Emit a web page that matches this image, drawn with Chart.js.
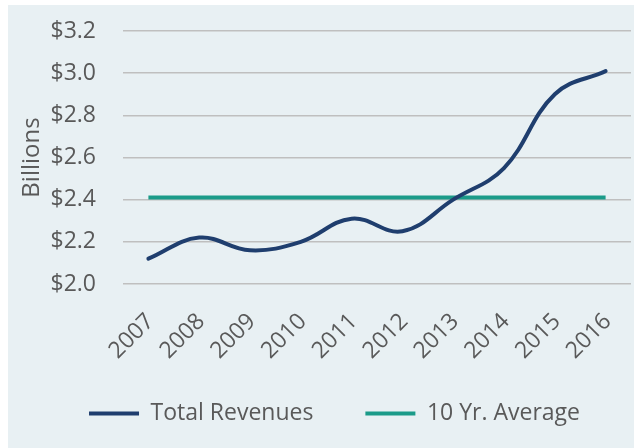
<!DOCTYPE html>
<html>
<head>
<meta charset="utf-8">
<script src="https://cdn.jsdelivr.net/npm/chart.js@4/dist/chart.umd.min.js"></script>
<style>
  html, body { margin: 0; padding: 0; background: #fff; }
  #wrap { position: absolute; left: 8px; top: 5px; width: 626px; height: 443px; background: #e8f0f3; }
</style>
</head>
<body>
<div id="wrap"><canvas id="chart"></canvas></div>
<script>
  // Data
  const years = ['2007', '2008', '2009', '2010', '2011', '2012', '2013', '2014', '2015', '2016'];
  const totalRevenues = [2.12, 2.22, 2.16, 2.20, 2.31, 2.25, 2.40, 2.55, 2.90, 3.01];
  const tenYrAverage = [2.41, 2.41, 2.41, 2.41, 2.41, 2.41, 2.41, 2.41, 2.41, 2.41];

  const textColor = '#595959';
  const fontFamily = '"Open Sans", sans-serif';

  // nudge the legend a bit right and up, like the original
  const legendShift = {
    id: 'legendShift',
    afterLayout(chart) {
      chart.legend.left += 10;
      chart.legend.right += 10;
      chart.legend.top -= 14;
      chart.legend.bottom -= 14;
    }
  };

  const ctx = document.getElementById('chart').getContext('2d');
  new Chart(ctx, {
    type: 'line',
    data: {
      labels: years,
      datasets: [
        {
          label: 'Total Revenues',
          data: totalRevenues,
          borderColor: '#1f3e6e',
          backgroundColor: '#1f3e6e',
          borderWidth: 4,
          tension: 0.4,
          pointRadius: 0,
          borderCapStyle: 'round'
        },
        {
          label: '10 Yr. Average',
          data: tenYrAverage,
          borderColor: '#1b9b89',
          backgroundColor: '#1b9b89',
          borderWidth: 4,
          pointRadius: 0
        }
      ]
    },
    options: {
      responsive: true,
      maintainAspectRatio: false,
      animation: false,
      layout: { padding: { top: 26, right: 3, left: 10, bottom: 4 } },
      plugins: {
        tooltip: { enabled: false },
        legend: {
          position: 'bottom',
          align: 'center',
          maxHeight: 80,
          labels: {
            color: textColor,
            font: { family: fontFamily, size: 23 },
            boxWidth: 50,
            boxHeight: 0,
            padding: 52
          }
        }
      },
      scales: {
        x: {
          offset: true,
          grid: { display: false },
          border: { display: false },
          ticks: {
            color: textColor,
            font: { family: fontFamily, size: 23 },
            maxRotation: 45,
            minRotation: 45,
            padding: 16,
            labelOffset: 2
          },
          afterFit(scale) {
            scale.height = 80;
            scale.paddingLeft = 0;
            scale.paddingRight = 0;
          }
        },
        y: {
          min: 2.0,
          max: 3.2,
          grid: { color: '#bfbfbf', lineWidth: 1.5, drawTicks: false },
          border: { display: false },
          title: {
            display: true,
            text: 'Billions',
            color: textColor,
            font: { family: fontFamily, size: 24 },
            padding: 0
          },
          ticks: {
            stepSize: 0.2,
            color: textColor,
            font: { family: fontFamily, size: 23 },
            padding: 27,
            callback: v => '$' + v.toFixed(1)
          },
          afterFit(scale) {
            scale.width = 105;
            scale.paddingTop = 0;
            scale.paddingBottom = 0;
          }
        }
      }
    },
    plugins: [legendShift]
  });
</script>
</body>
</html>
